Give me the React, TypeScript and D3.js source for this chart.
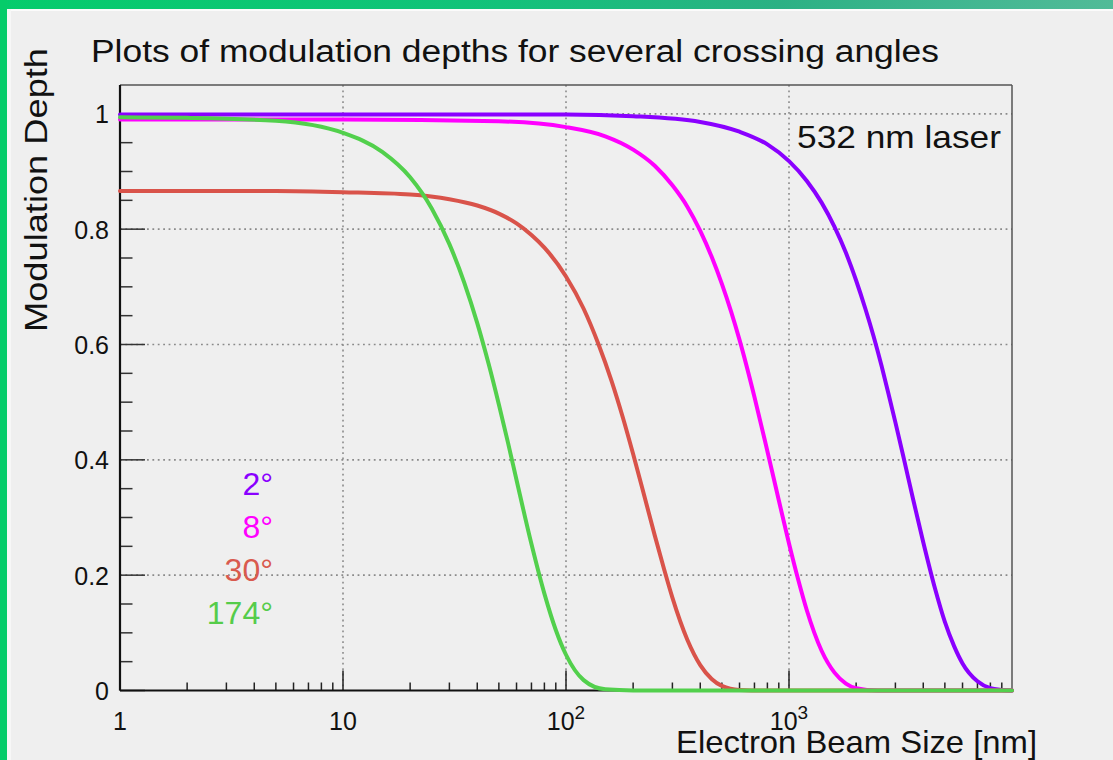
import React from 'react';
import * as d3 from 'd3';

const W = 1113;
const H = 760;

// Electron beam size [nm] and modulation depth
const size2 = [1, 100, 200, 400, 600, 800, 1000, 1200, 1400, 1600, 1800, 2000, 2200, 2400, 2600, 2800, 3000, 3300, 3600, 4000, 4500, 5000, 5500, 6000, 7000, 8000, 9000, 10000];
const depth2 = [0.999, 0.999, 0.996, 0.986, 0.969, 0.947, 0.918, 0.884, 0.846, 0.804, 0.759, 0.711, 0.662, 0.613, 0.563, 0.513, 0.465, 0.396, 0.332, 0.257, 0.179, 0.119, 0.077, 0.047, 0.016, 0.004, 0.001, 0];

const size8 = [1, 10, 50, 100, 150, 200, 250, 300, 350, 400, 450, 500, 550, 600, 700, 800, 900, 1000, 1100, 1200, 1400, 1600, 1800, 2000, 2500, 10000];
const depth8 = [0.990, 0.990, 0.987, 0.977, 0.961, 0.938, 0.910, 0.876, 0.839, 0.797, 0.752, 0.705, 0.657, 0.608, 0.509, 0.415, 0.330, 0.255, 0.192, 0.140, 0.069, 0.031, 0.012, 0.004, 0, 0];

const size30 = [1, 5, 10, 20, 30, 40, 50, 60, 70, 80, 100, 120, 140, 160, 180, 200, 225, 250, 275, 300, 350, 400, 450, 500, 600, 800, 10000];
const depth30 = [0.866, 0.866, 0.864, 0.860, 0.852, 0.841, 0.827, 0.810, 0.790, 0.768, 0.718, 0.662, 0.600, 0.537, 0.473, 0.410, 0.336, 0.269, 0.211, 0.161, 0.088, 0.044, 0.020, 0.008, 0.001, 0, 0];

const size174 = [1, 2, 5, 10, 15, 20, 25, 30, 35, 40, 45, 50, 55, 60, 70, 80, 90, 100, 120, 150, 200, 10000];
const depth174 = [0.994, 0.993, 0.988, 0.967, 0.934, 0.890, 0.836, 0.774, 0.707, 0.637, 0.566, 0.496, 0.429, 0.365, 0.254, 0.168, 0.105, 0.062, 0.018, 0.002, 0, 0];

const angleLabels = ['2°', '8°', '30°', '174°'];
const seriesColors = ['#8a00ff', '#ff00ff', '#d9534a', '#52d04c'];
const labelColors = ['#8a00ff', '#ff00ff', '#d95a4e', '#55cc4a'];

const xMajor = [1, 10, 100, 1000];
const xMajorBase = ['1', '10', '10', '10'];
const xMajorExp = ['', '', '2', '3'];
const yMajor = [0, 0.2, 0.4, 0.6, 0.8, 1];
const yMajorLabels = ['0', '0.2', '0.4', '0.6', '0.8', '1'];

const titleText = 'Plots of modulation depths for several crossing angles';
const xTitle = 'Electron Beam Size [nm]';
const yTitle = 'Modulation Depth';
const noteText = '532 nm laser';

const FONT = '"Liberation Sans", Arial, Helvetica, sans-serif';

export default function App() {
  const left = 120, right = 1012, top = 85, bottom = 690.5;
  const x = d3.scaleLog().domain([1, 10000]).range([left, right]);
  const y = d3.scaleLinear().domain([0, 1.05]).range([bottom, top]);

  const series = [
    { s: size2, d: depth2 },
    { s: size8, d: depth8 },
    { s: size30, d: depth30 },
    { s: size174, d: depth174 },
  ];

  const line = d3
    .line<[number, number]>()
    .x((p) => x(p[0]))
    .y((p) => y(p[1]))
    .curve(d3.curveMonotoneX);

  const xTicks = x.ticks().filter((v) => v < 10000);
  const isMajorX = (v: number) => Math.abs(Math.log10(v) - Math.round(Math.log10(v))) < 1e-9;
  const yTicks = d3.range(0, 21).map((i) => i * 0.05);

  return (
    <svg
      width={W}
      height={H}
      style={{ position: 'absolute', left: 0, top: 0, display: 'block' }}
      fontFamily={FONT}
    >
      <defs>
        <linearGradient id="topg" x1="0" x2="1" y1="0" y2="0">
          <stop offset="0" stopColor="#05cc6c" />
          <stop offset="0.45" stopColor="#12c27a" />
          <stop offset="0.7" stopColor="#2bb184" />
          <stop offset="0.85" stopColor="#3fb690" />
          <stop offset="1" stopColor="#52bb98" />
        </linearGradient>
        <clipPath id="plotclip">
          <rect x={left - 2} y={top} width={right - left + 4} height={bottom - top + 3} />
        </clipPath>
      </defs>
      <rect x={0} y={0} width={W} height={H} fill="#efefef" />
      {/* green frame */}
      <rect x={0} y={0} width={W} height={9} fill="url(#topg)" />
      <rect x={0} y={0} width={7} height={H} fill="#05cc6a" />
      <rect x={7} y={9} width={W - 7} height={2} fill="#fbfbfb" />
      <rect x={7} y={9} width={4} height={H - 9} fill="#f7f7f7" />

      {/* title */}
      <text x={91} y={61.5} fontSize={31} fill="#111" textLength={848} lengthAdjust="spacingAndGlyphs">
        {titleText}
      </text>

      {/* grid */}
      {yMajor.filter((v) => v > 0).map((v) => (
        <line key={'gy' + v} x1={left} x2={right} y1={y(v)} y2={y(v)} stroke="#8a8a8a" strokeWidth={1.6} strokeDasharray="1.8 3.6" />
      ))}
      {xMajor.filter((v) => v > 1).map((v) => (
        <line key={'gx' + v} x1={x(v)} x2={x(v)} y1={top} y2={bottom} stroke="#8a8a8a" strokeWidth={1.6} strokeDasharray="1.8 3.6" />
      ))}

      {/* frame */}
      <line x1={left} x2={right} y1={top} y2={top} stroke="#555" strokeWidth={1.5} />
      <line x1={right} x2={right} y1={top} y2={bottom} stroke="#555" strokeWidth={1.5} />

      {/* ticks */}
      {xTicks.map((v) => (
        <line key={'tx' + v} x1={x(v)} x2={x(v)} y1={bottom} y2={bottom - (isMajorX(v) ? 20 : 8)} stroke="#222" strokeWidth={1.5} />
      ))}
      {yTicks.map((v, i) => (
        <line key={'ty' + i} x1={left} x2={left + (i % 4 === 0 ? 25 : 12.5)} y1={y(v)} y2={y(v)} stroke="#333" strokeWidth={1.5} />
      ))}

      {/* axes */}
      <line x1={left} x2={left} y1={top} y2={bottom} stroke="#111" strokeWidth={2.2} />
      <line x1={left} x2={right} y1={bottom} y2={bottom} stroke="#111" strokeWidth={2.2} />

      {/* curves */}
      <g clipPath="url(#plotclip)">
        {series.map((sr, i) => (
          <path
            key={'c' + i}
            d={line(sr.s.map((s, j) => [s, sr.d[j]] as [number, number])) || ''}
            fill="none"
            stroke={seriesColors[i]}
            strokeWidth={4}
            strokeLinejoin="round"
            strokeLinecap="round"
          />
        ))}
      </g>

      {/* y tick labels */}
      {yMajor.map((v, i) => (
        <text key={'yl' + v} x={109} y={y(v) + 9.5} fontSize={25} textAnchor="end" fill="#111">
          {yMajorLabels[i]}
        </text>
      ))}
      {/* x tick labels */}
      {xMajor.map((v, i) => (
        <text key={'xl' + v} x={x(v)} y={730} fontSize={25} textAnchor="middle" fill="#111">
          <tspan>{xMajorBase[i]}</tspan>
          {xMajorExp[i] ? (
            <tspan dy={-11} fontSize={19}>
              {xMajorExp[i]}
            </tspan>
          ) : null}
        </text>
      ))}

      {/* axis titles */}
      <text x={676} y={753} fontSize={32} fill="#111" textLength={361} lengthAdjust="spacingAndGlyphs">
        {xTitle}
      </text>
      <text
        transform="translate(47,332) rotate(-90)"
        x={0}
        y={0}
        fontSize={32}
        fill="#111"
        textLength={284}
        lengthAdjust="spacingAndGlyphs"
      >
        {yTitle}
      </text>

      {/* annotation */}
      <text x={797} y={148} fontSize={32} fill="#111" textLength={204} lengthAdjust="spacingAndGlyphs">
        {noteText}
      </text>

      {/* legend labels */}
      {angleLabels.map((a, i) => (
        <text key={'lg' + i} x={273} y={495 + i * 43} fontSize={32} textAnchor="end" fill={labelColors[i]}>
          {a}
        </text>
      ))}
    </svg>
  );
}
